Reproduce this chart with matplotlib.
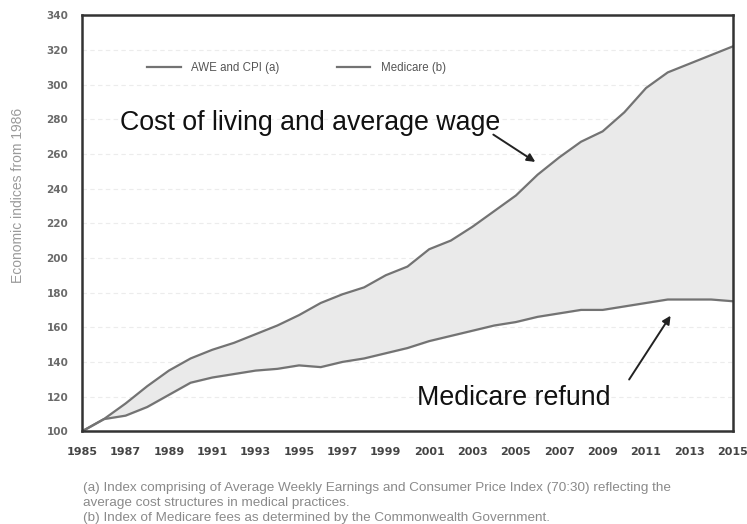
import matplotlib
matplotlib.use('Agg')
import matplotlib.pyplot as plt

plt.rcParams['font.family'] = ['Liberation Sans', 'DejaVu Sans']

years = list(range(1985, 2016))
awe_cpi = [100, 107, 116, 126, 135, 142, 147, 151, 156, 161, 167, 174, 179, 183, 190,
           195, 205, 210, 218, 227, 236, 248, 258, 267, 273, 284, 298, 307, 312, 317, 322]
medicare = [100, 107, 109, 114, 121, 128, 131, 133, 135, 136, 138, 137, 140, 142, 145,
            148, 152, 155, 158, 161, 163, 166, 168, 170, 170, 172, 174, 176, 176, 176, 175]
xtick_years = list(range(1985, 2016, 2))
ytick_values = list(range(100, 341, 20))

footnotes = ["(a) Index comprising of Average Weekly Earnings and Consumer Price Index (70:30) reflecting the",
             "average cost structures in medical practices.",
             "(b) Index of Medicare fees as determined by the Commonwealth Government."]

fig = plt.figure(figsize=(7.47, 5.24), dpi=100)
ax = fig.add_axes([0.110, 0.177, 0.871, 0.794])

ax.fill_between(years, medicare, awe_cpi, color='#eaeaea', zorder=1)
ax.plot(years, awe_cpi, color='#737373', lw=1.6, label='AWE and CPI (a)', zorder=2)
ax.plot(years, medicare, color='#737373', lw=1.6, label='Medicare (b)', zorder=2)

ax.set_xlim(1985, 2015)
ax.set_ylim(100, 340)
ax.set_xticks(xtick_years)
ax.set_yticks(ytick_values)
ax.tick_params(axis='x', length=0, pad=11)
ax.tick_params(axis='y', length=0, pad=10)
for lab in ax.get_xticklabels():
    lab.set_fontsize(8)
    lab.set_fontweight('bold')
    lab.set_family('DejaVu Sans')
    lab.set_color('#444444')
for lab in ax.get_yticklabels():
    lab.set_fontsize(7.5)
    lab.set_fontweight('bold')
    lab.set_family('DejaVu Sans')
    lab.set_color('#6a6a6a')
ax.yaxis.grid(True, color='#ececec', lw=0.8, linestyle=(0, (4, 3)))
ax.set_axisbelow(True)
for sp in ax.spines.values():
    sp.set_linewidth(1.8)
    sp.set_color('#333333')

fig.text(18 / 747, 1 - 195 / 524, 'Economic indices from 1986', fontsize=10, color='#9a9a9a',
         rotation=90, va='center', ha='center')

leg = ax.legend(loc='center left', bbox_to_anchor=(0.1, 0.873), ncol=2, frameon=False,
                fontsize=8.3, handlelength=2.9, handletextpad=0.9, columnspacing=5.0,
                borderpad=0, borderaxespad=0)
for t in leg.get_texts():
    t.set_color('#555555')

ax.text(1986.75, 273.7, 'Cost of living and average wage', fontsize=19.3, color='#111111',
        va='baseline', ha='left')
ax.annotate('', xy=(2006.0, 254.5), xytext=(2003.85, 272),
            arrowprops=dict(arrowstyle='-|>', color='#222222', lw=1.4, mutation_scale=12))

ax.text(2000.45, 115, 'Medicare refund', fontsize=19.3, color='#111111',
        va='baseline', ha='left')
ax.annotate('', xy=(2012.2, 168), xytext=(2010.15, 128.5),
            arrowprops=dict(arrowstyle='-|>', color='#222222', lw=1.4, mutation_scale=12))

for i, line in enumerate(footnotes):
    fig.text(83 / 747, 1 - (488 + 15 * i) / 524, line, fontsize=9.7, color='#8a8a8a',
             va='center', ha='left')

fig.savefig('out.png', dpi=100)
